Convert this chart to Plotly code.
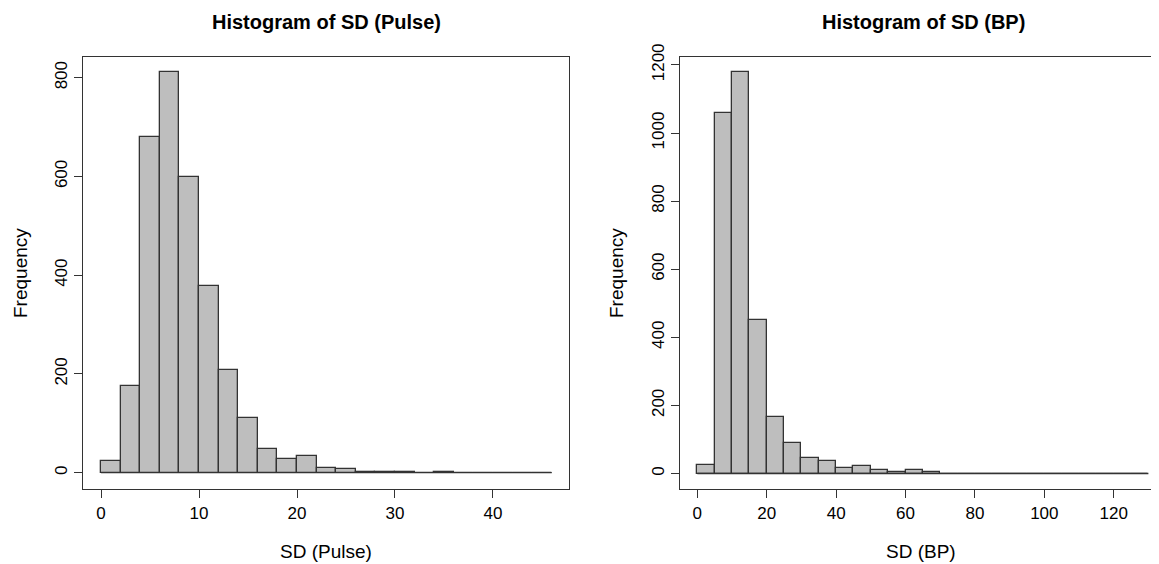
import plotly.graph_objects as go
import numpy as np

# ---- data ----
pulse_edges = list(range(0, 48, 2))          # 0..46
pulse_counts = [23, 175, 680, 811, 599, 378, 209, 111, 49, 28, 33, 10, 7, 2, 2, 2, 0, 2, 0, 0, 0, 0, 0]
pulse_xticks = [0, 10, 20, 30, 40]
pulse_yticks = [0, 200, 400, 600, 800]

bp_edges = list(range(0, 135, 5))            # 0..130
bp_counts = [26, 1060, 1179, 451, 165, 89, 45, 37, 15, 22, 11, 4, 11, 4, 0, 0, 0, 0, 0, 0, 0, 0, 0, 0, 0, 0]
bp_xticks = [0, 20, 40, 60, 80, 100, 120]
bp_yticks = [0, 200, 400, 600, 800, 1000, 1200]

titles = ["Histogram of SD (Pulse)", "Histogram of SD (BP)"]
xlabels = ["SD (Pulse)", "SD (BP)"]
ylabel = "Frequency"

W, H = 1159, 564
OFF = 8  # page body margin
FONT = "Liberation Sans, Arial, sans-serif"
LINE = "#333333"
FILL = "#BEBEBE"

fig = go.Figure()

def add_hist(edges, counts, xa, ya):
    e = np.array(edges, dtype=float)
    centers = (e[:-1] + e[1:]) / 2
    widths = e[1:] - e[:-1]
    fig.add_trace(go.Bar(x=centers, y=counts, width=widths, xaxis=xa, yaxis=ya,
                         marker=dict(color=FILL, line=dict(color=LINE, width=1.3)),
                         showlegend=False, hoverinfo="x+y"))
    # baseline (zero-height bins)
    fig.add_trace(go.Scatter(x=[e[0], e[-1]], y=[0, 0], mode="lines", xaxis=xa, yaxis=ya,
                             line=dict(color=LINE, width=1.3), showlegend=False, hoverinfo="skip"))

add_hist(pulse_edges, pulse_counts, "x", "y")
add_hist(bp_edges, bp_counts, "x2", "y2")

def px(x):
    return (x - OFF) / W

def py(y):
    return 1 - (y - OFF) / H

tickfont = dict(family=FONT, size=17, color="#000")
common_x = dict(showgrid=False, zeroline=False, ticks="outside", ticklen=8, tickwidth=1.2,
                tickcolor=LINE, showline=True, linecolor=LINE, linewidth=1.3, tickfont=tickfont,
                automargin=False)
common_y = dict(showgrid=False, zeroline=False, ticks="outside", ticklen=8, tickwidth=1.2,
                tickcolor=LINE, showline=True, linecolor=LINE, linewidth=1.3, tickfont=tickfont,
                tickangle=-90, automargin=False)

# target page pixels: left box x 83..569, y 57..489 ; right box x 680..1166
fig.update_layout(
    xaxis=dict(domain=[px(83), px(569)], range=[-1.84, 47.76], tickvals=pulse_xticks,
               anchor="y", mirror=True, **common_x),
    yaxis=dict(domain=[py(489), py(57)], range=[-33.0, 841.9], tickvals=pulse_yticks,
               anchor="x", mirror=True, **common_y),
    xaxis2=dict(domain=[px(680), px(1166)], range=[-5.0, 135.07], tickvals=bp_xticks,
                anchor="y2", mirror=True, **common_x),
    yaxis2=dict(domain=[py(489), py(57)], range=[-45.5, 1223.2], tickvals=bp_yticks,
                anchor="x2", mirror=False, **common_y),
)

fig.update_layout(width=W, height=H, margin=dict(l=0, r=0, t=0, b=0, pad=0, autoexpand=False),
                  paper_bgcolor="white", plot_bgcolor="white", bargap=0,
                  font=dict(family=FONT, color="#000"))

ann = []
for cx, t in zip([326, 923], titles):
    ann.append(dict(x=px(cx), y=py(22), xref="paper", yref="paper", text="<b>%s</b>" % t,
                    showarrow=False, xanchor="center", yanchor="middle",
                    font=dict(family=FONT, size=20, color="#000")))
for cx, t in zip([326, 921], xlabels):
    ann.append(dict(x=px(cx), y=py(551), xref="paper", yref="paper", text=t,
                    showarrow=False, xanchor="center", yanchor="middle",
                    font=dict(family=FONT, size=19, color="#000")))
for cx in [20, 616]:
    ann.append(dict(x=px(cx), y=py(273), xref="paper", yref="paper", text=ylabel,
                    showarrow=False, xanchor="center", yanchor="middle", textangle=-90,
                    font=dict(family=FONT, size=19, color="#000")))
fig.update_layout(annotations=ann)

fig.write_html("out.html")
